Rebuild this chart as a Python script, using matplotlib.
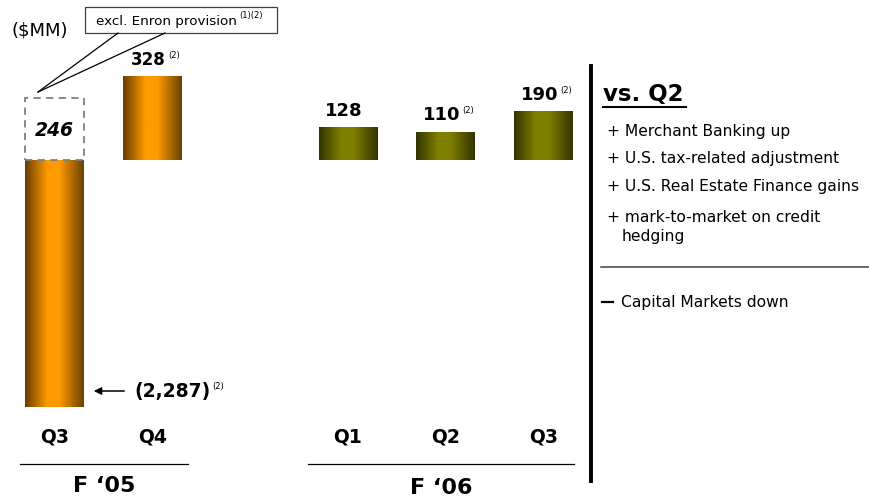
"""
Quarterly net income bars, F'05 vs F'06, with the Q3 commentary panel.
Writes out.png
"""
import matplotlib
matplotlib.use("Agg")
import matplotlib.pyplot as plt
import numpy as np
from matplotlib.colors import LinearSegmentedColormap
from matplotlib.patches import Rectangle, FancyArrowPatch
from matplotlib.lines import Line2D
from matplotlib.transforms import blended_transform_factory

W, H = 870, 497

quarters = ["Q3", "Q4", "Q1", "Q2", "Q3"]
fiscal_years = ["F \u201805", "F \u201806"]
year_of_bar = [0, 0, 1, 1, 1]
net_income = [-2287, 328, 128, 110, 190]
footnotes = ["(2)", "(2)", "", "(2)", "(2)"]
excl_enron = 246
drivers_up = [
    "Merchant Banking up",
    "U.S. tax-related adjustment",
    "U.S. Real Estate Finance gains",
    "mark-to-market on credit\nhedging",
]
drivers_down = ["Capital Markets down"]

x_pos = [0, 1, 3, 4, 5]
BAR_W = 0.6
SLOT_PX = 97.8
LABEL_SIZE = [12, 12, 13, 13, 13]

GRADIENTS = [
    LinearSegmentedColormap.from_list(
        "f05", [(0, "#6a3c00"), (0.38, "#ff9a00"), (0.58, "#ff9a00"), (1, "#6a4200")]),
    LinearSegmentedColormap.from_list(
        "f06", [(0, "#333300"), (0.38, "#808000"), (0.58, "#808000"), (1, "#333300")]),
]


def fx(px):
    return px / W


def fy(py):
    return 1 - py / H


def fig_line(x0, y0, x1, y1, **kw):
    fig.lines.append(Line2D([fx(x0), fx(x1)], [fy(y0), fy(y1)], transform=fig.transFigure, **kw))


def superscript(host, note, size=6, rise=1.02):
    ax.annotate(note, xy=(1, rise), xycoords=host, xytext=(1.5, 0), textcoords="offset points",
                ha="left", va="top", fontsize=size)


fig = plt.figure(figsize=(W / 100, H / 100), dpi=100)
fig.patch.set_facecolor("white")

# axes bottom edge clips the Q3 F'05 loss bar
ax = fig.add_axes([0, (H - 407) / H, 1, 407 / H])
ax.axis("off")

grad = np.linspace(0, 1, 256)[np.newaxis, :]
for x, v, yr in zip(x_pos, net_income, year_of_bar):
    ax.bar(x, v, width=BAR_W, color="none", edgecolor="none")
    ax.imshow(grad, extent=[x - BAR_W / 2, x + BAR_W / 2, min(0, v), max(0, v)],
              cmap=GRADIENTS[yr], aspect="auto", interpolation="bicubic", zorder=2)

ax.set_xlim(-54.5 / SLOT_PX, (W - 54.5) / SLOT_PX)
ax.set_ylim(-976, 632)

# dashed box: Q3 F'05 excluding the Enron provision
ax.add_patch(Rectangle((x_pos[0] - BAR_W / 2, 0), BAR_W, excl_enron, facecolor="white",
                       edgecolor="#7f7f7f", linestyle=(0, (4, 3)), linewidth=1.3, zorder=3))
ax.text(x_pos[0], excl_enron / 2 - 8, str(excl_enron), ha="center", va="center",
        fontsize=13.5, fontweight="bold", fontstyle="italic", zorder=4)

# value labels above the positive bars
for x, v, note, fs in zip(x_pos, net_income, footnotes, LABEL_SIZE):
    if v < 0:
        continue
    t = ax.annotate(f"{v:,}", xy=(x - 0.04, v), xytext=(0, 12), textcoords="offset points",
                    ha="center", va="center", fontsize=fs, fontweight="bold")
    if note:
        superscript(t, note)

# loss label with arrow
loss = ax.annotate(f"({abs(net_income[0]):,})", xy=(fx(134), fy(392)), xycoords="figure fraction",
                   ha="left", va="center", fontsize=13.5, fontweight="bold")
superscript(loss, footnotes[0])
fig.patches.append(FancyArrowPatch((fx(127), fy(391)), (fx(91), fy(391)),
                                   transform=fig.transFigure, arrowstyle="-|>",
                                   mutation_scale=11, color="black", lw=1.1))

# quarter and fiscal-year labels
tx = blended_transform_factory(ax.transData, fig.transFigure)
for x, q in zip(x_pos, quarters):
    ax.text(x, fy(437), q, transform=tx, ha="center", va="center",
            fontsize=13.5, fontweight="bold")

for yr, (x0, x1, ly) in enumerate([(20, 188, 486), (308, 574, 488)]):
    fig_line(x0, 464, x1, 464, color="black", lw=0.9)
    fig.text(fx((x0 + x1) / 2), fy(ly), fiscal_years[yr], ha="center", va="center",
             fontsize=16, fontweight="bold")

# units and callout
fig.text(fx(12), fy(30), "($MM)", ha="left", va="center", fontsize=13)
fig.patches.append(Rectangle((fx(85), fy(33)), fx(192), 26 / H, transform=fig.transFigure,
                             facecolor="white", edgecolor="#404040", lw=0.9, zorder=-1))
call = fig.text(fx(96), fy(21), "excl. Enron provision", ha="left", va="center", fontsize=9.7)
superscript(call, "(1)(2)", rise=1.25)
for bx in (118, 165):
    fig_line(bx, 33, 38, 92, color="black", lw=0.9)

# commentary panel
fig_line(591, 66, 591, 481, color="black", lw=2.8)
fig.text(fx(603), fy(95), "vs. Q2", ha="left", va="center", fontsize=16.5, fontweight="bold")
fig_line(603, 107, 686, 107, color="black", lw=1.5)

for py, item in zip([131, 159, 187, 218], drivers_up):
    first, *rest = item.split("\n")
    fig.text(fx(607), fy(py), "+ " + first, ha="left", va="center", fontsize=11.2)
    for k, line in enumerate(rest, 1):
        fig.text(fx(622), fy(py + 19 * k), line, ha="left", va="center", fontsize=11.2)

fig_line(601, 267, 870, 267, color="#404040", lw=1.1)
for py, item in zip([302], drivers_down):
    fig_line(602, 302, 613, 302, color="black", lw=1.6)
    fig.text(fx(621), fy(py), item, ha="left", va="center", fontsize=11.2)

fig.savefig("out.png", dpi=100)
